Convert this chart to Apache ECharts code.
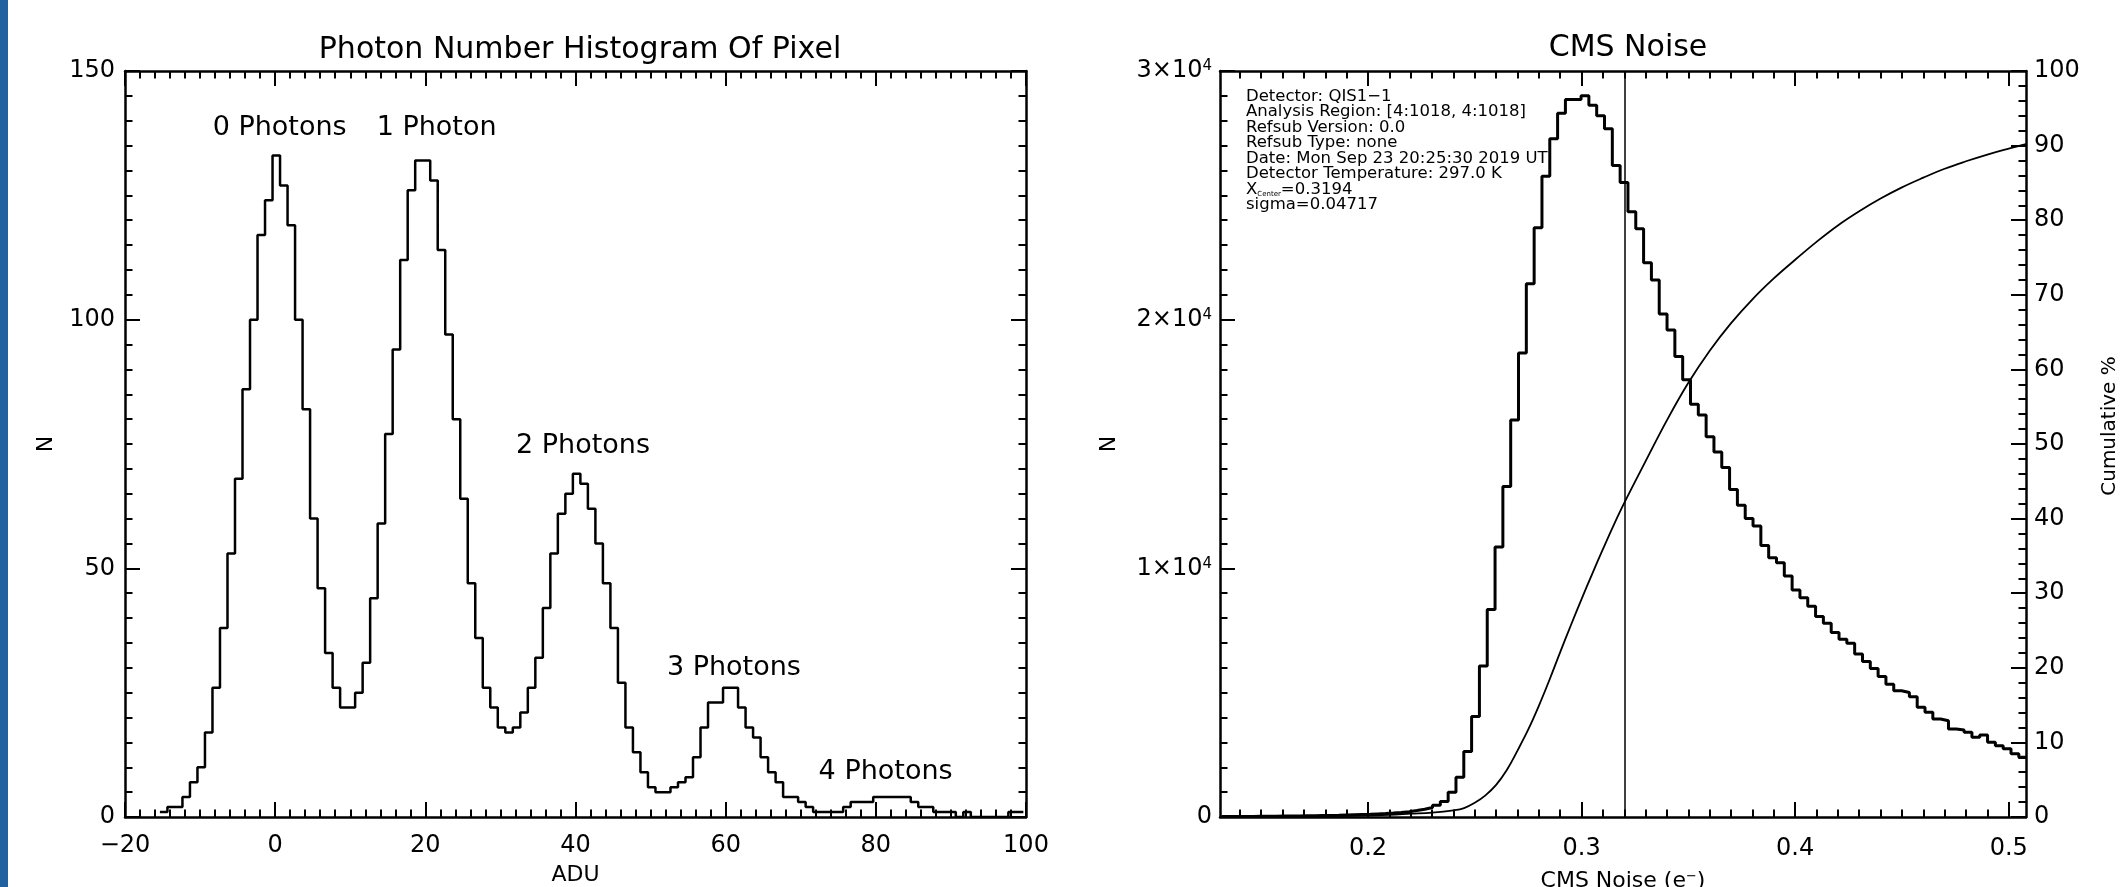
<!DOCTYPE html>
<html>
<head>
<meta charset="utf-8">
<script src="https://cdn.jsdelivr.net/npm/echarts@6/dist/echarts.min.js"></script>
<style>
  html, body { margin: 0; padding: 0; background: #fff; }
  #main { width: 2126px; height: 887px; }
</style>
</head>
<body>
<div id="main"></div>
<script>
// left panel: photon counting histogram, one bin per ADU
var aduStart = -15.35;
var aduBinWidth = 1;
var aduCounts = [
  1, 2, 2, 4, 7, 10, 17, 26, 38, 53,
  68, 86, 100, 117, 124, 133, 127, 119, 100, 82,
  60, 46, 33, 26, 22, 22, 25, 31, 44, 59,
  77, 94, 112, 126, 132, 132, 128, 114, 97, 80,
  64, 47, 36, 26, 22, 18, 17, 18, 21, 26,
  32, 42, 53, 61, 65, 69, 67, 62, 55, 47,
  38, 27, 18, 13, 9, 6, 5, 5, 6, 7,
  8, 12, 18, 23, 23, 26, 26, 22, 18, 16,
  12, 9, 7, 4, 4, 3, 2, 1, 1, 1,
  1, 2, 3, 3, 3, 4, 4, 4, 4, 4,
  3, 2, 2, 1, 1, 1, 0, 1, 0, 0,
  0, 0, 0, 1, 1
];
var photonLabels = ["0 Photons", "1 Photon", "2 Photons", "3 Photons", "4 Photons"];
var photonLabelX = [0.6, 21.5, 41.0, 61.1, 81.3];
var photonLabelY = [138.6, 138.6, 74.7, 30.0, 9.1];

// right panel: CMS noise histogram + cumulative curve
var noiseStart = 0.1314;
var noiseBinWidth = 0.00366;
var noiseCounts = [
  20, 20, 25, 25, 30, 30, 35, 40, 40, 45,
  50, 55, 60, 65, 70, 80, 90, 100, 110, 125,
  140, 160, 185, 215, 260, 310, 380, 470, 620, 1000,
  1600, 2630, 4040, 6070, 8340, 10860, 13290, 15970, 18660, 21440,
  23700, 25770, 27280, 28300, 28850, 28850, 29000, 28620, 28200, 27680,
  26200, 25520, 24340, 23660, 22290, 21600, 20230, 19580, 18520, 17580,
  16600, 16170, 15290, 14680, 14050, 13170, 12540, 12000, 11700, 10920,
  10430, 10220, 9690, 9130, 8820, 8480, 8060, 7790, 7420, 7150,
  6990, 6550, 6250, 5970, 5650, 5340, 5080, 5010, 4840, 4410,
  4210, 3940, 3870, 3540, 3500, 3410, 3210, 3300, 3010, 2870,
  2740, 2540, 2400
];
var cumX = [0.1307, 0.16, 0.19, 0.21, 0.22, 0.23, 0.24, 0.245, 0.25, 0.255,
  0.26, 0.265, 0.27, 0.275, 0.28, 0.285, 0.29, 0.295, 0.30, 0.305,
  0.31, 0.315, 0.32, 0.33, 0.34, 0.35, 0.36, 0.37, 0.38, 0.39,
  0.40, 0.41, 0.42, 0.43, 0.44, 0.45, 0.46, 0.47, 0.48, 0.49,
  0.50, 0.508];
var cumPct = [0, 0.05, 0.15, 0.3, 0.45, 0.6, 0.9, 1.2, 1.9, 2.9,
  4.3, 6.3, 8.9, 11.7, 14.9, 18.4, 22.1, 25.7, 29.2, 32.6,
  35.9, 39.1, 42.1, 47.7, 53.2, 58.2, 62.5, 66.2, 69.4, 72.2,
  74.7, 77.1, 79.3, 81.2, 82.9, 84.4, 85.7, 86.9, 87.9, 88.8,
  89.6, 90.2];
var xCenter = 0.3194;
var sigma = 0.04717;
var noiseTicks = [0.2, 0.3, 0.4, 0.5];
var infoLines = [
  "Detector: QIS1\u22121",
  "Analysis Region: [4:1018, 4:1018]",
  "Refsub Version: 0.0",
  "Refsub Type: none",
  "Date: Mon Sep 23 20:25:30 2019 UT",
  "Detector Temperature: 297.0 K",
  "X{sub|Center}=0.3194",
  "sigma=0.04717"
];

var FONT = "DejaVu Sans";
var noiseMin = xCenter - 4 * sigma;
var noiseMax = xCenter + 4 * sigma;

// minor ticks every 0.01 on the noise axis
var noiseMinor = [];
for (var t = 14; t <= 50; t++) {
  if (t % 10 != 0) noiseMinor.push(t / 100);
}

function stepData(start, width, counts) {
  var pts = [];
  for (var i = 0; i < counts.length; i++) {
    var x0 = start + i * width;
    pts.push([x0, counts[i]], [x0 + width, counts[i]]);
  }
  return pts;
}

var axisLine = { show: true, onZero: false, lineStyle: { color: "#000", width: 2.5 } };
var majorTick = { show: true, inside: true, length: 15, lineStyle: { color: "#000", width: 2 } };
var minorTick = { show: true, length: 7.5, lineStyle: { color: "#000", width: 2 } };
var labelStyle = { color: "#000", fontFamily: FONT, fontSize: 24 };

function valueAxis(extra) {
  var base = {
    type: "value",
    axisLine: axisLine,
    axisTick: majorTick,
    splitLine: { show: false },
    axisLabel: Object.assign({ margin: 10 }, labelStyle),
    nameTextStyle: { color: "#000", fontFamily: FONT, fontSize: 22 },
  };
  return Object.assign(base, extra);
}

var chart = echarts.init(document.getElementById("main"));

var option = {
  backgroundColor: "#fff",
  animation: false,
  title: [
    {
      text: "Photon Number Histogram Of Pixel",
      left: 575, top: 30, textAlign: "center",
      textStyle: { color: "#000", fontFamily: FONT, fontSize: 30, fontWeight: "normal" },
    },
    {
      text: "CMS Noise",
      left: 1623, top: 28, textAlign: "center",
      textStyle: { color: "#000", fontFamily: FONT, fontSize: 30, fontWeight: "normal" },
    },
  ],
  grid: [
    { left: 125, top: 71, width: 901, height: 746, outerBoundsMode: "none", containLabel: false },
    { left: 1220, top: 71, width: 806, height: 746, outerBoundsMode: "none", containLabel: false },
  ],
  xAxis: [
    valueAxis({
      gridIndex: 0, position: "bottom", min: -20, max: 100, interval: 20,
      minorTick: Object.assign({ splitNumber: 10 }, minorTick),
      axisLabel: Object.assign({ margin: 17, formatter: function (v) { return String(v).replace("-", "\u2212"); } }, labelStyle),
      name: "ADU", nameLocation: "middle", nameGap: 47,
    }),
    valueAxis({
      gridIndex: 0, position: "top", min: -20, max: 100, interval: 20,
      minorTick: Object.assign({ splitNumber: 10 }, minorTick),
      axisLabel: { show: false },
    }),
    valueAxis({
      gridIndex: 1, position: "bottom", min: noiseMin, max: noiseMax,
      axisTick: Object.assign({ customValues: noiseTicks }, majorTick),
      axisLabel: Object.assign({ margin: 20, customValues: noiseTicks, formatter: function (v) { return v.toFixed(1); } }, labelStyle),
      name: "CMS Noise (e{sup|\u2212})", nameLocation: "middle", nameGap: 53,
      nameTextStyle: { color: "#000", fontFamily: FONT, fontSize: 22, rich: { sup: { fontSize: 13, verticalAlign: "top", fontFamily: FONT, color: "#000" } } },
    }),
    valueAxis({
      gridIndex: 1, position: "bottom", min: noiseMin, max: noiseMax,
      axisLine: { show: false, onZero: false },
      axisTick: Object.assign({}, majorTick, { customValues: noiseMinor, length: 7.5 }),
      axisLabel: { show: false },
    }),
    valueAxis({
      gridIndex: 1, position: "top", min: noiseMin, max: noiseMax,
      axisTick: Object.assign({ customValues: noiseTicks }, majorTick),
      axisLabel: { show: false },
    }),
    valueAxis({
      gridIndex: 1, position: "top", min: noiseMin, max: noiseMax,
      axisLine: { show: false, onZero: false },
      axisTick: Object.assign({}, majorTick, { customValues: noiseMinor, length: 7.5 }),
      axisLabel: { show: false },
    }),
  ],
  yAxis: [
    valueAxis({
      gridIndex: 0, position: "left", min: 0, max: 150, interval: 50,
      minorTick: Object.assign({ splitNumber: 10 }, minorTick),
      name: "N", nameLocation: "middle", nameGap: 68,
    }),
    valueAxis({
      gridIndex: 0, position: "right", min: 0, max: 150, interval: 50,
      minorTick: Object.assign({ splitNumber: 10 }, minorTick),
      axisLabel: { show: false },
    }),
    valueAxis({
      gridIndex: 1, position: "left", min: 0, max: 30000, interval: 10000,
      minorTick: Object.assign({ splitNumber: 10 }, minorTick),
      axisLabel: Object.assign({
        margin: 8,
        formatter: function (v) { return v === 0 ? "0" : (v / 10000) + "\u00d710{sup|4}"; },
        rich: { sup: { fontSize: 15, verticalAlign: "top", fontFamily: FONT, color: "#000" } },
      }, labelStyle),
      name: "N", nameLocation: "middle", nameGap: 100,
    }),
    valueAxis({
      gridIndex: 1, position: "right", min: 0, max: 100, interval: 10,
      minorTick: Object.assign({ splitNumber: 5 }, minorTick),
      axisLabel: Object.assign({ margin: 8 }, labelStyle),
      name: "Cumulative %", nameLocation: "middle", nameGap: 74,
      nameTextStyle: { color: "#000", fontFamily: FONT, fontSize: 20, padding: [0, 0, 0, 36] },
    }),
  ],
  graphic: [
    { type: "rect", left: 0, top: 0, shape: { width: 8, height: 887 }, style: { fill: "#22619f" } },
    {
      type: "text", left: 1246, top: 88,
      style: {
        text: infoLines.join("\n"),
        fill: "#000", fontFamily: FONT, fontSize: 16.5, lineHeight: 15.5,
        rich: { sub: { fontSize: 7, verticalAlign: "bottom", fill: "#000", fontFamily: FONT } },
      },
    },
  ],
  series: [
    {
      type: "line", xAxisIndex: 0, yAxisIndex: 0,
      data: stepData(aduStart, aduBinWidth, aduCounts),
      showSymbol: false, symbol: "none",
      lineStyle: { color: "#000", width: 2.5 },
      silent: true,
    },
    {
      type: "scatter", xAxisIndex: 0, yAxisIndex: 0, symbolSize: 0,
      itemStyle: { opacity: 1 },
      data: photonLabels.map(function (n, i) { return { name: n, value: [photonLabelX[i], photonLabelY[i]] }; }),
      label: { show: true, position: "inside", formatter: "{b}", color: "#000", opacity: 1, fontFamily: FONT, fontSize: 27 },
      silent: true,
    },
    {
      type: "line", xAxisIndex: 2, yAxisIndex: 2,
      data: stepData(noiseStart, noiseBinWidth, noiseCounts),
      showSymbol: false, symbol: "none",
      lineStyle: { color: "#000", width: 3 },
      silent: true,
      markLine: {
        silent: true, symbol: ["none", "none"], label: { show: false },
        lineStyle: { color: "#000", width: 1.5, type: "solid" },
        data: [{ xAxis: xCenter }],
      },
    },
    {
      type: "line", xAxisIndex: 2, yAxisIndex: 3,
      data: cumX.map(function (x, i) { return [x, cumPct[i]]; }),
      smooth: 0.4, showSymbol: false, symbol: "none",
      lineStyle: { color: "#000", width: 1.8 },
      silent: true,
    },
  ],
};

chart.setOption(option);
</script>
</body>
</html>
